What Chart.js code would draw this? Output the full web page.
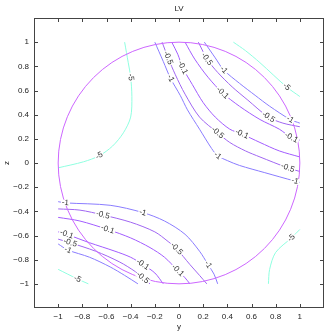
<!DOCTYPE html>
<html>
<head>
<meta charset="utf-8">
<script src="https://cdn.jsdelivr.net/npm/chart.js@4/dist/chart.umd.min.js"></script>
<style>
  html, body { margin: 0; background: #fff; }
  #wrap { width: 327px; height: 332px; }
</style>
</head>
<body>
<div id="wrap"><canvas id="chart"></canvas></div>
<script>
// tick values shared by both axes
const tickValues = [-1, -0.8, -0.6, -0.4, -0.2, 0, 0.2, 0.4, 0.6, 0.8, 1];

// upper right group, [y, z] pairs
const upperMinus1a = [[-0.20, 1.0], [-0.13, 0.84], [-0.07, 0.70], [0.01, 0.56], [0.07, 0.44], [0.17, 0.28], [0.27, 0.12], [0.32, 0.06], [0.40, 0.02], [0.50, -0.02], [0.71, -0.08], [0.96, -0.15], [1.0, -0.16]];
const upperMinus05a = [[-0.14, 1.0], [-0.09, 0.87], [-0.03, 0.73], [0.05, 0.57], [0.17, 0.38], [0.32, 0.25], [0.42, 0.17], [0.55, 0.10], [0.67, 0.05], [0.90, -0.04], [1.0, -0.07]];
const upperMinus01a = [[-0.06, 1.0], [-0.01, 0.90], [0.03, 0.79], [0.11, 0.65], [0.20, 0.50], [0.30, 0.38], [0.42, 0.28], [0.52, 0.24], [0.67, 0.17], [0.83, 0.10], [1.0, 0.05]];
const upperMinus01b = [[0.05, 1.0], [0.13, 0.86], [0.24, 0.71], [0.36, 0.58], [0.50, 0.47], [0.67, 0.36], [0.83, 0.28], [0.93, 0.21], [1.0, 0.19]];
const upperMinus05b = [[0.16, 1.0], [0.20, 0.92], [0.23, 0.86], [0.32, 0.75], [0.44, 0.63], [0.57, 0.52], [0.74, 0.38], [0.86, 0.33], [1.0, 0.30]];
const upperMinus1b = [[0.21, 1.0], [0.30, 0.87], [0.37, 0.77], [0.50, 0.66], [0.63, 0.56], [0.75, 0.47], [0.92, 0.36], [1.0, 0.33]];

// lower left group
const lowerMinus1a = [[-1.0, -0.32], [-0.94, -0.33], [-0.57, -0.35], [-0.30, -0.41], [-0.12, -0.48], [0.05, -0.59], [0.17, -0.73], [0.24, -0.84], [0.29, -0.92], [0.32, -1.0]];
const lowerMinus05a = [[-1.0, -0.38], [-0.82, -0.39], [-0.63, -0.43], [-0.40, -0.49], [-0.20, -0.57], [-0.09, -0.65], [-0.02, -0.71], [0.09, -0.84], [0.17, -0.93], [0.23, -1.0]];
const lowerMinus01a = [[-1.0, -0.45], [-0.82, -0.48], [-0.59, -0.55], [-0.40, -0.62], [-0.24, -0.70], [-0.12, -0.78], [-0.01, -0.89], [0.05, -0.95], [0.09, -1.0]];
const lowerMinus01b = [[-1.0, -0.57], [-0.93, -0.59], [-0.74, -0.66], [-0.53, -0.73], [-0.40, -0.78], [-0.30, -0.84], [-0.20, -0.91], [-0.13, -1.0]];
const lowerMinus05b = [[-1.0, -0.63], [-0.90, -0.66], [-0.69, -0.73], [-0.49, -0.82], [-0.36, -0.90], [-0.30, -0.95], [-0.24, -1.0]];
const lowerMinus1b = [[-1.0, -0.67], [-0.92, -0.72], [-0.74, -0.78], [-0.57, -0.86], [-0.45, -0.93], [-0.34, -1.0]];

// -5 level pieces
const minus5TopLeft = [[-0.45, 1.0], [-0.42, 0.83], [-0.40, 0.71], [-0.39, 0.55], [-0.40, 0.38], [-0.46, 0.25], [-0.55, 0.14], [-0.66, 0.06], [-0.79, 0.01], [-1.0, -0.04]];
const minus5TopRight = [[0.45, 1.0], [0.55, 0.93], [0.67, 0.83], [0.89, 0.63], [1.0, 0.55]];
const minus5BottomLeft = [[-1.0, -0.88], [-0.84, -0.96], [-0.75, -1.0]];
const minus5BottomRight = [[0.74, -1.0], [0.75, -0.88], [0.80, -0.74], [0.93, -0.62], [1.0, -0.55]];

// boundary circle
const circleCenter = [0, 0];
const circleRadius = 1;

const levelColors = { "-1": "#8a7cff", "-0.5": "#a066f2", "-0.1": "#a25cff", "-5": "#8fffe0" };

const contours = [
  { level: "-1", pts: upperMinus1a, labelsAt: [2, 7, 11] },
  { level: "-0.5", pts: upperMinus05a, labelsAt: [1, 5, 9] },
  { level: "-0.1", pts: upperMinus01a, labelsAt: [2, 7] },
  { level: "-0.1", pts: upperMinus01b, labelsAt: [3, 7] },
  { level: "-0.5", pts: upperMinus05b, labelsAt: [2, 6] },
  { level: "-1", pts: upperMinus1b, labelsAt: [2, 6] },
  { level: "-1", pts: lowerMinus1a, labelsAt: [1, 3, 7] },
  { level: "-0.5", pts: lowerMinus05a, labelsAt: [2, 6] },
  { level: "-0.1", pts: lowerMinus01a, labelsAt: [2, 6] },
  { level: "-0.1", pts: lowerMinus01b, labelsAt: [1, 5] },
  { level: "-0.5", pts: lowerMinus05b, labelsAt: [1, 5] },
  { level: "-1", pts: lowerMinus1b, labelsAt: [1] },
  { level: "-5", pts: minus5TopLeft, labelsAt: [2, 7] },
  { level: "-5", pts: minus5TopRight, labelsAt: [3] },
  { level: "-5", pts: minus5BottomLeft, labelsAt: [1] },
  { level: "-5", pts: minus5BottomRight, labelsAt: [3] }
];

const FONT = '8px "Liberation Sans", Arial, sans-serif';

function minusText(v) {
  return String(v).replace("-", "\u2212");
}

const decorPlugin = {
  id: "decor",
  afterDatasetsDraw(chart) {
    const ctx = chart.ctx;
    const xs = chart.scales.x;
    const ys = chart.scales.y;
    const a = chart.chartArea;

    // circle
    const cx = xs.getPixelForValue(circleCenter[0]);
    const cy = ys.getPixelForValue(circleCenter[1]);
    const rx = Math.abs(xs.getPixelForValue(circleCenter[0] + circleRadius) - cx);
    const ry = Math.abs(ys.getPixelForValue(circleCenter[1] + circleRadius) - cy);
    ctx.save();
    ctx.strokeStyle = "#cc66ff";
    ctx.lineWidth = 1;
    ctx.beginPath();
    ctx.ellipse(cx, cy, rx, ry, 0, 0, Math.PI * 2);
    ctx.stroke();
    ctx.restore();

    // contour labels
    ctx.save();
    ctx.font = FONT;
    ctx.textAlign = "center";
    ctx.textBaseline = "middle";
    contours.forEach(c => {
      c.labelsAt.forEach(i => {
        const p = c.pts[i];
        const prev = c.pts[Math.max(i - 1, 0)];
        const next = c.pts[Math.min(i + 1, c.pts.length - 1)];
        const px = xs.getPixelForValue(p[0]);
        const py = ys.getPixelForValue(p[1]);
        const dx = xs.getPixelForValue(next[0]) - xs.getPixelForValue(prev[0]);
        const dy = ys.getPixelForValue(next[1]) - ys.getPixelForValue(prev[1]);
        let ang = Math.atan2(dy, dx);
        if (ang > Math.PI / 2) ang -= Math.PI;
        if (ang < -Math.PI / 2) ang += Math.PI;
        ctx.save();
        ctx.translate(px, py);
        ctx.rotate(ang);
        const w = ctx.measureText(c.level).width;
        ctx.fillStyle = "#fff";
        ctx.fillRect(-w / 2 - 1, -3, w + 2, 6);
        ctx.fillStyle = "#333";
        ctx.fillText(c.level, 0, 0);
        ctx.restore();
      });
    });
    ctx.restore();

    // frame and ticks
    ctx.save();
    ctx.strokeStyle = "#444";
    ctx.lineWidth = 1;
    ctx.strokeRect(Math.round(a.left) + 0.5, Math.round(a.top) + 0.5, Math.round(a.right - a.left) - 1, Math.round(a.bottom - a.top) - 1);
    ctx.beginPath();
    tickValues.forEach(v => {
      const x = Math.round(xs.getPixelForValue(v)) + 0.5;
      ctx.moveTo(x, a.top); ctx.lineTo(x, a.top + 4);
      ctx.moveTo(x, a.bottom); ctx.lineTo(x, a.bottom - 4);
      const y = Math.round(ys.getPixelForValue(v)) + 0.5;
      ctx.moveTo(a.left, y); ctx.lineTo(a.left + 4, y);
      ctx.moveTo(a.right, y); ctx.lineTo(a.right - 4, y);
    });
    ctx.stroke();

    // tick labels
    ctx.fillStyle = "#222";
    ctx.font = FONT;
    ctx.textBaseline = "middle";
    tickValues.forEach(v => {
      ctx.textAlign = "center";
      ctx.fillText(minusText(v), xs.getPixelForValue(v), 317);
      ctx.textAlign = "right";
      ctx.fillText(minusText(v), 29, ys.getPixelForValue(v));
    });

    // titles
    ctx.textAlign = "center";
    ctx.fillText("LV", (a.left + a.right) / 2, 9);
    ctx.fillText("y", (a.left + a.right) / 2, 327);
    ctx.save();
    ctx.translate(7, (a.top + a.bottom) / 2);
    ctx.rotate(-Math.PI / 2);
    ctx.fillText("z", 0, 0);
    ctx.restore();
    ctx.restore();
  }
};

const datasets = contours.map(c => ({
  data: c.pts.map(p => ({ x: p[0], y: p[1] })),
  showLine: true,
  borderColor: levelColors[c.level],
  borderWidth: 1,
  pointRadius: 0,
  tension: 0.3,
  fill: false
}));

new Chart(document.getElementById("chart"), {
  type: "scatter",
  data: { datasets: datasets },
  options: {
    responsive: true,
    maintainAspectRatio: false,
    animation: false,
    devicePixelRatio: 1,
    layout: { padding: { top: 18, right: 3, left: 0, bottom: 0 } },
    plugins: { legend: { display: false }, tooltip: { enabled: false } },
    scales: {
      x: {
        min: -1.2, max: 1.2,
        afterBuildTicks: axis => { axis.ticks = tickValues.map(v => ({ value: v })); },
        afterFit: s => { s.height = 24; },
        grid: { display: false },
        border: { display: false },
        ticks: { display: false }
      },
      y: {
        min: -1.2, max: 1.2,
        afterBuildTicks: axis => { axis.ticks = tickValues.map(v => ({ value: v })); },
        afterFit: s => { s.width = 34; },
        grid: { display: false },
        border: { display: false },
        ticks: { display: false }
      }
    }
  },
  plugins: [decorPlugin]
});
</script>
</body>
</html>
